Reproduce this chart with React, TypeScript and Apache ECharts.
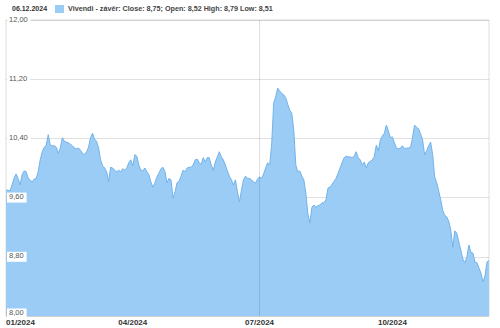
import React, { useEffect, useRef } from "react";
import * as echarts from "echarts";

// ---- data ----
const startDate = "2024-01-02";
const endDate = "2024-12-06";
const holidays = ["2024-01-01", "2024-03-29", "2024-04-01", "2024-05-01"];

function buildTradingDays(): string[] {
  const out: string[] = [];
  const s = startDate.split("-").map(Number);
  const e = endDate.split("-").map(Number);
  const d = new Date(Date.UTC(s[0], s[1] - 1, s[2]));
  const end = new Date(Date.UTC(e[0], e[1] - 1, e[2]));
  while (d.getTime() <= end.getTime()) {
    const wd = d.getUTCDay();
    const iso = d.toISOString().slice(0, 10);
    if (wd !== 0 && wd !== 6 && holidays.indexOf(iso) < 0) out.push(iso);
    d.setUTCDate(d.getUTCDate() + 1);
  }
  return out;
}
const categories = buildTradingDays();

const closeValues = [
  9.70, 9.70, 9.69, 9.77, 9.86, 9.92, 9.86, 9.77, 9.91, 9.96,
  9.95, 9.86, 9.84, 9.81, 9.85, 9.86, 9.95, 10.11, 10.22, 10.28,
  10.31, 10.45, 10.31, 10.30, 10.30, 10.28, 10.20, 10.27, 10.41, 10.36,
  10.35, 10.34, 10.32, 10.30, 10.27, 10.26, 10.27, 10.24, 10.20, 10.18,
  10.22, 10.28, 10.41, 10.47, 10.39, 10.36, 10.27, 10.11, 10.03, 10.00,
  9.95, 9.82, 10.01, 10.00, 9.97, 9.95, 9.97, 9.95, 9.99, 9.97,
  10.00, 10.07, 10.11, 10.03, 10.18, 10.16, 10.04, 9.97, 9.96, 10.00,
  9.95, 9.91, 9.81, 9.74, 9.80, 9.88, 9.93, 9.99, 10.01, 9.95,
  9.80, 9.86, 9.84, 9.59, 9.68, 9.80, 9.82, 9.89, 9.97, 9.95,
  10.00, 10.01, 10.01, 10.04, 10.11, 10.12, 10.07, 10.05, 10.14, 10.08,
  10.14, 10.14, 10.04, 9.97, 10.08, 10.15, 10.22, 10.15, 10.11, 10.04,
  9.96, 9.89, 9.84, 9.77, 9.84, 9.68, 9.54, 9.70, 9.84, 9.89,
  9.86, 9.86, 9.84, 9.81, 9.80, 9.85, 9.88, 9.86, 9.92, 10.00,
  10.07, 10.04, 10.31, 10.88, 10.96, 11.08, 11.04, 11.01, 10.99, 10.95,
  10.86, 10.78, 10.74, 10.51, 10.04, 9.95, 9.96, 9.89, 9.84, 9.66,
  9.38, 9.26, 9.47, 9.50, 9.47, 9.49, 9.50, 9.53, 9.53, 9.57,
  9.73, 9.74, 9.78, 9.82, 9.86, 9.93, 10.00, 10.07, 10.14, 10.16,
  10.15, 10.15, 10.14, 10.16, 10.22, 10.14, 10.11, 10.04, 10.08, 10.00,
  10.07, 10.09, 10.11, 10.15, 10.31, 10.23, 10.38, 10.43, 10.47, 10.58,
  10.50, 10.41, 10.42, 10.34, 10.27, 10.26, 10.27, 10.30, 10.26, 10.27,
  10.27, 10.28, 10.41, 10.58, 10.55, 10.53, 10.46, 10.38, 10.18, 10.23,
  10.30, 10.35, 10.18, 9.88, 9.80, 9.69, 9.57, 9.43, 9.36, 9.34,
  9.28, 9.16, 8.93, 9.15, 9.12, 9.00, 8.89, 8.77, 8.72, 8.80,
  8.96, 8.86, 8.85, 8.73, 8.72, 8.65, 8.58, 8.46, 8.54, 8.73, 8.75,
];

const yMin = 8;
const yMax = 12;
const yStep = 0.8;
const quarterMonths = ["01", "04", "07", "10"];
const markerDate = "2024-07-01";

const seriesName = "Vivendi - závěr";
const lastDate = "06.12.2024";
const lastClose = "8,75";
const lastOpen = "8,52";
const lastHigh = "8,79";
const lastLow = "8,51";

const FILL = "#9ACCF6";
const LINE = "#72B3EA";
const FONT = "'Liberation Sans', Arial, sans-serif";

export default function App() {
  const ref = useRef<HTMLDivElement>(null);
  useEffect(() => {
    if (!ref.current) return;
    const chart = echarts.init(ref.current, null, { renderer: "svg" });
    const isQuarterStart = (index: number, value: string) => {
      const m = value.slice(5, 7);
      return quarterMonths.indexOf(m) >= 0 && (index === 0 || categories[index - 1].slice(5, 7) !== m);
    };
    chart.setOption({
      animation: false,
      textStyle: { fontFamily: FONT },
      grid: {
        left: 6,
        right: 11,
        top: 20,
        bottom: 12,
        containLabel: false,
        show: true,
        borderColor: "#dedede",
        borderWidth: 1,
      },
      graphic: [
        {
          type: "text",
          left: 12,
          top: 5,
          style: { text: lastDate, font: `bold 7px ${FONT}`, fill: "#333" },
        },
        {
          type: "rect",
          left: 55,
          top: 5,
          shape: { width: 9, height: 8 },
          style: { fill: FILL },
        },
        {
          type: "text",
          left: 68,
          top: 5,
          style: {
            text: `${seriesName}: Close: ${lastClose}; Open: ${lastOpen} High: ${lastHigh} Low: ${lastLow}`,
            font: `bold 7.2px ${FONT}`,
            fill: "#444",
          },
        },
      ],
      xAxis: {
        type: "category",
        data: categories,
        boundaryGap: false,
        z: 4,
        axisLine: { show: false },
        axisTick: { show: false },
        splitLine: { show: false },
        axisLabel: {
          interval: isQuarterStart,
          formatter: (v: string) => `${v.slice(5, 7)}/${v.slice(0, 4)}`,
          fontSize: 8,
          fontWeight: "bold",
          color: "#333",
          margin: 2,
          alignMinLabel: "left",
        },
      },
      yAxis: {
        type: "value",
        min: yMin,
        max: yMax,
        interval: yStep,
        z: 3,
        axisLine: { show: false },
        axisTick: { show: false },
        splitLine: { show: true, lineStyle: { color: "rgba(0,0,0,0.12)", width: 1 } },
        axisLabel: {
          inside: true,
          margin: 1,
          fontSize: 7.5,
          color: "#555",
          backgroundColor: "#fff",
          padding: [0, 3, 2, 2],
          formatter: (v: number) => {
            const s = v.toFixed(2).replace(".", ",");
            return v === yMin ? `{low|${s}}` : s;
          },
          rich: {
            low: { fontSize: 7.5, color: "#555", padding: [0, 0, 5, 0] },
          },
        },
      },
      series: [
        {
          name: seriesName,
          type: "line",
          data: closeValues,
          symbol: "none",
          lineStyle: { color: LINE, width: 1 },
          areaStyle: { color: FILL, opacity: 1 },
          markLine: {
            silent: true,
            symbol: "none",
            label: { show: false },
            lineStyle: { color: "rgba(0,0,0,0.12)", type: "solid", width: 1 },
            data: [{ xAxis: markerDate }],
          },
        },
      ],
    });
    return () => chart.dispose();
  }, []);
  return (
    <div
      ref={ref}
      style={{ position: "fixed", left: 0, top: 0, width: 500, height: 328, background: "#fff" }}
    />
  );
}
